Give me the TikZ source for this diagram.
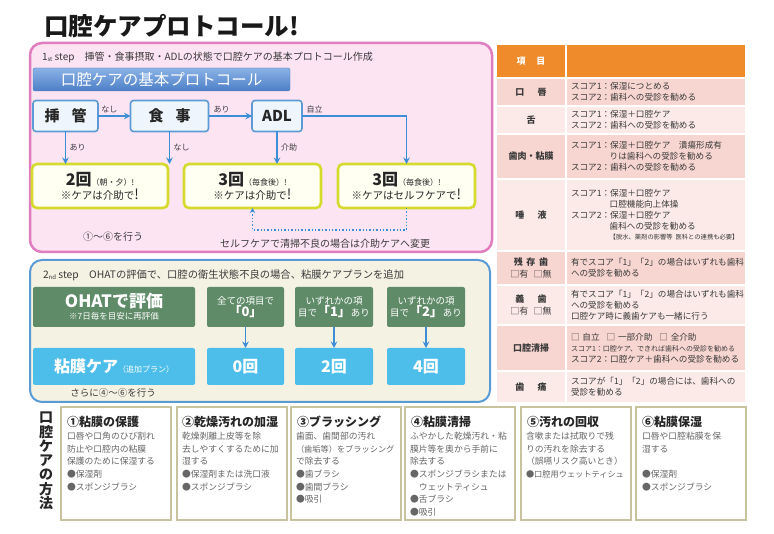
\documentclass[tikz,border=0pt]{standalone}
\usepackage{fontspec}
\setmainfont{Noto Sans CJK JP}
\usetikzlibrary{arrows.meta}

\definecolor{PinkFill}{HTML}{FDE4F3}
\definecolor{PinkLine}{HTML}{E07DBE}
\definecolor{BannerTop}{HTML}{8AB2E6}
\definecolor{BannerBot}{HTML}{4D7FC7}
\definecolor{QFill}{HTML}{EEF5FC}
\definecolor{QLine}{HTML}{5D9BD6}
\definecolor{ArrowBlue}{HTML}{3D8ED4}
\definecolor{YelLine}{HTML}{D5DB2E}
\definecolor{YelFill}{HTML}{FFFFF2}
\definecolor{BeigeFill}{HTML}{F4F2E3}
\definecolor{StepTwoLine}{HTML}{5B9BD5}
\definecolor{OhatGreen}{HTML}{5F8B68}
\definecolor{MucBlue}{HTML}{4DBEEA}
\definecolor{HeadOrange}{HTML}{F08B2B}
\definecolor{RowDark}{HTML}{F7D5D0}
\definecolor{RowLight}{HTML}{FBEAE7}
\definecolor{CardLine}{HTML}{C7C39D}
\definecolor{TextGray}{HTML}{3A3A3A}

\newcommand{\FSz}[2]{\fontsize{#1}{#2}\selectfont}
\newcommand{\RowL}{497}
\newcommand{\RowR}{567}
\newcommand{\Ind}{\hspace*{4.5em}}

\begin{document}
\begin{tikzpicture}[x=1pt,y=-1pt,
  every node/.style={inner sep=0pt,outer sep=0pt,text=TextGray},
  stepone/.style={draw=PinkLine,line width=2.5pt,fill=PinkFill,rounded corners=12pt},
  steptwo/.style={draw=StepTwoLine,line width=2pt,fill=BeigeFill,rounded corners=12pt},
  banner/.style={draw=BannerBot,top color=BannerTop,bottom color=BannerBot,rounded corners=2pt,text=white,font=\FSz{15.5}{17}},
  qbox/.style={draw=QLine,line width=1.6pt,fill=QFill,rounded corners=3pt,font=\FSz{15}{17}\bfseries,text=black!85},
  freq/.style={draw=YelLine,line width=2.6pt,fill=YelFill,rounded corners=5pt,align=center,text=black!85},
  arr/.style={draw=ArrowBlue,line width=1.2pt,-{Stealth[length=6.5pt,width=6.5pt]}},
  dotarr/.style={draw=ArrowBlue,line width=1.4pt,dotted,-{Stealth[length=5pt,width=5pt]}},
  lbl/.style={font=\FSz{8}{9}},
  ohat/.style={fill=OhatGreen,rounded corners=2pt,text=white,align=center},
  muc/.style={fill=MucBlue,rounded corners=2pt,text=white,align=center},
  cellL/.style={anchor=north west,text width=60pt,inner xsep=4pt,align=center,font=\FSz{9}{12}\bfseries},
  cellR/.style={anchor=north west,text width=170pt,inner xsep=4pt,align=left,font=\FSz{8.6}{10.8}},
  card/.style={draw=CardLine,line width=2pt,fill=white,anchor=north west,minimum width=110pt,minimum height=113pt},
  cardhead/.style={anchor=west,font=\FSz{12}{14}\bfseries,text=black!85},
  cardbody/.style={anchor=north west,align=left,font=\FSz{8.8}{12.7},text=black!60}]

\fill[white] (0,0) rectangle (774,534);
\useasboundingbox (0,0) rectangle (774,534);

\node[anchor=west,font=\FSz{24.5}{26}\bfseries,text=black!90] (title) at (44,26) {口腔ケアプロトコール!};

% 1st step
\node[stepone,anchor=north west,minimum width=462pt,minimum height=209pt] (step1) at (30,43) {};
\node[anchor=west,font=\FSz{10}{12}] (s1head) at (42,57) {1\raisebox{-1pt}{\FSz{6}{6}st} step\quad 挿管・食事摂取・ADLの状態で口腔ケアの基本プロトコール作成};
\node[banner,anchor=north west,minimum width=257pt,minimum height=23pt] (banner) at (33,68) {口腔ケアの基本プロトコール};

\node[qbox,minimum width=65pt,minimum height=31pt] (sokan) at (65.5,116) {挿\hspace{0.8em}管};
\node[qbox,minimum width=78pt,minimum height=31pt] (shokuji) at (169.5,116) {食\hspace{0.8em}事};
\node[qbox,minimum width=50pt,minimum height=31pt] (adl) at (277,116) {ADL};

\node[freq,minimum width=136pt,minimum height=44pt] (freq1) at (100,186)
  {{\FSz{16}{18}\bfseries 2回}{\FSz{8}{10}（朝・夕）!}\\[1pt]{\FSz{10.5}{12}※ケアは介助で}{\FSz{14}{14}!}};
\node[freq,minimum width=137pt,minimum height=44pt] (freq2) at (252.5,186)
  {{\FSz{16}{18}\bfseries 3回}{\FSz{8}{10}（毎食後）!}\\[1pt]{\FSz{10.5}{12}※ケアは介助で}{\FSz{14}{14}!}};
\node[freq,minimum width=137pt,minimum height=44pt] (freq3) at (406.5,186)
  {{\FSz{16}{18}\bfseries 3回}{\FSz{8}{10}（毎食後）!}\\[1pt]{\FSz{10.5}{12}※ケアはセルフケアで}{\FSz{14}{14}!}};

\draw[arr] (sokan) -- node[lbl,above=3pt,pos=0.35] {なし} (shokuji);
\draw[arr] (shokuji) -- node[lbl,above=3pt,pos=0.3] {あり} (adl);
\draw[arr] (adl.east) -| node[lbl,above=3pt,pos=0.06] {自立} (freq3.north);
\draw[arr] (sokan.south) -- node[lbl,right=4pt] {あり} (sokan.south |- freq1.north);
\draw[arr] (shokuji.south) -- node[lbl,right=4pt] {なし} (shokuji.south |- freq1.north);
\draw[arr] (adl.south) -- node[lbl,right=4pt] {介助} (adl.south |- freq2.north);
\draw[dotarr] (freq3.south) -- ++(0,22) -| (freq2.south);

\node[font=\FSz{10}{12}] (doall) at (113,237) {①〜⑥を行う};
\node[font=\FSz{10}{12}] (change) at (325,244) {セルフケアで清掃不良の場合は介助ケアへ変更};

% 2nd step
\node[steptwo,anchor=north west,minimum width=460pt,minimum height=142pt] (step2) at (30,260) {};
\node[anchor=west,font=\FSz{10.3}{12}] (s2head) at (43,275) {2\raisebox{-1pt}{\FSz{6}{6}nd} step\quad OHATの評価で、口腔の衛生状態不良の場合、粘膜ケアプランを追加};

\node[ohat,minimum width=162pt,minimum height=40pt] (ohateval) at (114,307)
  {{\FSz{17}{19}\bfseries OHATで評価}\\{\FSz{8.5}{9}※7日毎を目安に再評価}};
\node[ohat,minimum width=77pt,minimum height=40pt] (gzero) at (245.5,307)
  {{\FSz{9.5}{12}全ての項目で}\\{\FSz{13}{15}\bfseries 「0」}};
\node[ohat,minimum width=78pt,minimum height=40pt] (gone) at (334,307)
  {{\FSz{9.5}{12}いずれかの項}\\{\FSz{9.5}{12}目で}{\FSz{13}{15}\bfseries 「1」}{\FSz{9.5}{12}あり}};
\node[ohat,minimum width=78pt,minimum height=40pt] (gtwo) at (426,307)
  {{\FSz{9.5}{12}いずれかの項}\\{\FSz{9.5}{12}目で}{\FSz{13}{15}\bfseries 「2」}{\FSz{9.5}{12}あり}};

\node[muc,minimum width=162pt,minimum height=37pt] (mucosa) at (114,366.5)
  {{\FSz{16}{18}\bfseries 粘膜ケア}{\FSz{8}{10}（追加プラン）}};
\node[muc,minimum width=77pt,minimum height=37pt,font=\FSz{16}{18}\bfseries] (bzero) at (245.5,366.5) {0回};
\node[muc,minimum width=78pt,minimum height=37pt,font=\FSz{16}{18}\bfseries] (bone) at (334,366.5) {2回};
\node[muc,minimum width=78pt,minimum height=37pt,font=\FSz{16}{18}\bfseries] (btwo) at (426,366.5) {4回};

\draw[arr] (gzero) -- (bzero);
\draw[arr] (gone) -- (bone);
\draw[arr] (gtwo) -- (btwo);

\node[font=\FSz{9.5}{12}] (more) at (113,393) {さらに④〜⑥を行う};

% table
\node[cellL,fill=HeadOrange,minimum height=32pt,text=white] (hdL) at (\RowL,45) {項\hspace{1.2em}目};
\node[cellR,fill=HeadOrange,minimum height=32pt] (hdR) at (\RowR,45) {};
\node[cellL,fill=RowDark,minimum height=26pt] (lipL) at (\RowL,79) {口\hspace{1.5em}唇};
\node[cellR,fill=RowDark,minimum height=26pt] (lipR) at (\RowR,79) {スコア1：保湿につとめる\\スコア2：歯科への受診を勧める};
\node[cellL,fill=RowLight,minimum height=26pt] (tongueL) at (\RowL,107) {舌};
\node[cellR,fill=RowLight,minimum height=26pt] (tongueR) at (\RowR,107) {スコア1：保湿＋口腔ケア\\スコア2：歯科への受診を勧める};
\node[cellL,fill=RowDark,minimum height=43pt] (gumL) at (\RowL,135) {歯肉・粘膜};
\node[cellR,fill=RowDark,minimum height=43pt] (gumR) at (\RowR,135) {スコア1：保湿＋口腔ケア\hspace{1em}潰瘍形成有\\\Ind りは歯科への受診を勧める\\スコア2：歯科への受診を勧める};
\node[cellL,fill=RowLight,minimum height=70pt] (salivaL) at (\RowL,180) {唾\hspace{1.5em}液};
\node[cellR,fill=RowLight,minimum height=70pt] (salivaR) at (\RowR,180) {スコア1：保湿＋口腔ケア\\\Ind 口腔機能向上体操\\スコア2：保湿＋口腔ケア\\\Ind 歯科への受診を勧める\\\Ind{\FSz{6.3}{8}【脱水、薬剤の影響等 医科との連携も必要】}};
\node[cellL,fill=RowDark,minimum height=32pt] (teethL) at (\RowL,252) {残\hspace{0.4em}存\hspace{0.4em}歯\\{\mdseries □有\hspace{0.6em}□無}};
\node[cellR,fill=RowDark,minimum height=32pt] (teethR) at (\RowR,252) {有でスコア「1」「2」の場合はいずれも歯科\\への受診を勧める};
\node[cellL,fill=RowLight,minimum height=38pt] (dentL) at (\RowL,286) {義\hspace{1.5em}歯\\{\mdseries □有\hspace{0.6em}□無}};
\node[cellR,fill=RowLight,minimum height=38pt] (dentR) at (\RowR,286) {有でスコア「1」「2」の場合はいずれも歯科\\への受診を勧める\\口腔ケア時に義歯ケアも一緒に行う};
\node[cellL,fill=RowDark,minimum height=44pt] (cleanL) at (\RowL,326) {口腔清掃};
\node[cellR,fill=RowDark,minimum height=44pt] (cleanR) at (\RowR,326) {□ 自立\hspace{0.8em}□ 一部介助\hspace{0.8em}□ 全介助\\{\FSz{7}{10.8}スコア1：口腔ケア、できれば歯科への受診を勧める}\\スコア2：口腔ケア＋歯科への受診を勧める};
\node[cellL,fill=RowLight,minimum height=30pt] (painL) at (\RowL,372) {歯\hspace{1.5em}痛};
\node[cellR,fill=RowLight,minimum height=30pt] (painR) at (\RowR,372) {スコアが「1」「2」の場合には、歯科への\\受診を勧める};

% methods
\node[font=\FSz{14}{14.3}\bfseries,align=center,text=black!85] (method) at (46,461) {口\\腔\\ケ\\ア\\の\\方\\法};

\node[card] (card1) at (61,407) {};
\node[cardhead] (head1) at (67,422) {①粘膜の保護};
\node[cardbody] (body1) at (67,432) {口唇や口角のひび割れ\\防止や口腔内の粘膜\\保護のために保湿する\\●保湿剤\\●スポンジブラシ};

\node[card] (card2) at (177,407) {};
\node[cardhead] (head2) at (182,422) {②乾燥汚れの加湿};
\node[cardbody] (body2) at (182,432) {乾燥剥離上皮等を除\\去しやすくするために加\\湿する\\●保湿剤または洗口液\\●スポンジブラシ};

\node[card] (card3) at (291,407) {};
\node[cardhead] (head3) at (297,422) {③ブラッシング};
\node[cardbody] (body3) at (296,432) {歯面、歯間部の汚れ\\{\FSz{8.2}{12.7}（歯垢等）をブラッシング}\\で除去する\\●歯ブラシ\\●歯間ブラシ\\●吸引};

\node[card] (card4) at (405,407) {};
\node[cardhead] (head4) at (411,422) {④粘膜清掃};
\node[cardbody] (body4) at (410,432) {ふやかした乾燥汚れ・粘\\膜片等を奥から手前に\\除去する\\●スポンジブラシまたは\\\hspace*{1em}ウェットティシュ\\●舌ブラシ\\●吸引};

\node[card] (card5) at (521,407) {};
\node[cardhead] (head5) at (527,422) {⑤汚れの回収};
\node[cardbody] (body5) at (526,432) {含嗽または拭取りで残\\りの汚れを除去する\\（誤嚥リスク高いとき）\\{\FSz{8.2}{12.7}●口腔用ウェットティシュ}};

\node[card] (card6) at (636,407) {};
\node[cardhead] (head6) at (642,422) {⑥粘膜保湿};
\node[cardbody] (body6) at (642,432) {口唇や口腔粘膜を保\\湿する\\[12.7pt]●保湿剤\\●スポンジブラシ};

\end{tikzpicture}
\end{document}
